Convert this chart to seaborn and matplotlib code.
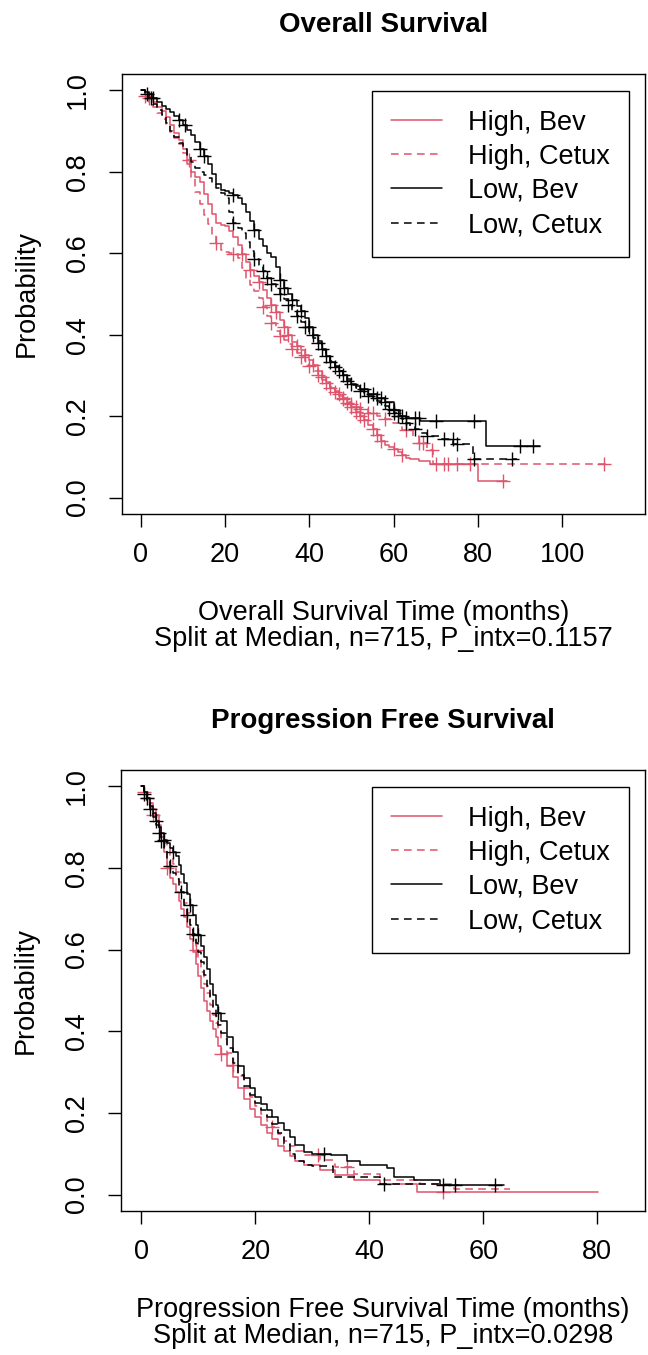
import numpy as np
import pandas as pd
import seaborn as sns
import matplotlib
matplotlib.use('Agg')
import matplotlib.pyplot as plt

# ---- Overall survival (months, survival prob after each drop) ----
os_low_bev_t = [0, 1, 2, 3, 4, 5, 6, 7, 8, 9, 10, 11, 12, 13, 14, 15, 16, 17, 18, 19,
                20, 21, 22, 23, 24, 25, 26, 27, 28, 29, 30, 31, 32, 33, 34, 35, 36, 37, 38, 39,
                40, 41, 42, 43, 44, 45, 46, 47, 48, 49, 50, 51, 52, 54, 56, 58, 60, 61.5, 63, 66.3, 82, 94.7]
os_low_bev_s = [1, .995, .99, .98, .97, .962, .955, .946, .937, .928, .915, .903, .89, .872, .855, .838, .82, .795, .77, .756,
                .752, .748, .742, .736, .72, .70, .68, .657, .634, .617, .60, .59, .565, .535, .515, .50, .485, .47, .458, .44,
                .42, .40, .385, .365, .347, .333, .32, .31, .30, .292, .28, .273, .266, .255, .245, .235, .215, .20, .195, .188, .126, .126]
os_low_cet_t = [0, 1, 2, 3, 4, 5, 6, 7, 8, 9, 10, 11, 12, 13, 14, 15, 16, 17, 18, 19,
                20, 21, 22, 23, 24, 25, 26, 27, 28, 29, 30, 31, 32, 33, 34, 35, 36, 37, 38, 39,
                40, 41, 42, 43, 44, 45, 46, 47, 48, 49, 50, 51, 52, 53, 54, 55, 56, 57, 58, 59,
                60, 61, 62, 63, 64, 65, 66, 68, 71, 74.2, 78.9, 89.2]
os_low_cet_s = [1, .99, .98, .966, .952, .94, .92, .90, .885, .87, .855, .84, .825, .808, .80, .792, .785, .772, .76, .748,
                .735, .70, .674, .662, .65, .628, .605, .585, .57, .556, .54, .525, .513, .50, .487, .472, .458, .445, .43, .418,
                .405, .392, .38, .362, .348, .335, .322, .31, .297, .286, .276, .27, .262, .256, .25, .244, .238, .232, .226, .218,
                .208, .20, .192, .184, .176, .168, .159, .152, .143, .131, .094, .094]
os_high_bev_t = [0, 1, 2, 3, 4, 5, 6, 7, 8, 9, 10, 11, 12, 13, 14, 15, 16, 17, 18, 19,
                 20, 21, 22, 23, 24, 25, 26, 27, 28, 29, 30, 31, 32, 33, 34, 35, 36, 37, 38, 39,
                 40, 41, 42, 43, 44, 45, 46, 47, 48, 49, 50, 51, 52, 53, 54, 55, 56, 57, 58, 59,
                 60, 61, 62, 63, 64, 66, 68.6, 80.1, 86.8]
os_high_bev_s = [1, .99, .98, .972, .96, .948, .935, .915, .895, .877, .857, .83, .80, .788, .774, .745, .72, .697, .674, .67,
                 .667, .655, .64, .62, .597, .578, .56, .545, .53, .51, .49, .472, .455, .437, .42, .40, .383, .372, .362, .35,
                 .338, .325, .31, .295, .283, .27, .26, .25, .241, .232, .222, .21, .20, .19, .178, .168, .155, .14, .13, .125,
                 .12, .112, .105, .098, .095, .09, .082, .041, .041]
os_high_cet_t = [0, 1, 2, 3, 4, 5, 6, 7, 8, 9, 10, 11, 12, 13, 14, 15, 16, 17, 18, 19,
                 20, 21, 22, 23, 24, 25, 26, 27, 28, 29, 30, 31, 32, 33, 34, 35, 36, 37, 38, 39,
                 40, 41, 42, 43, 44, 45, 46, 47, 48, 49, 50, 51, 52, 54, 56, 58, 59.9, 62, 64.7, 66,
                 67.8, 69.4, 110.5]
os_high_cet_s = [1, .985, .97, .958, .944, .93, .915, .898, .882, .867, .845, .82, .785, .75, .722, .695, .672, .648, .625, .608,
                 .604, .60, .597, .588, .563, .54, .523, .507, .49, .468, .446, .428, .41, .398, .386, .376, .366, .355, .345, .335,
                 .324, .312, .30, .29, .281, .272, .263, .254, .245, .236, .229, .222, .217, .208, .20, .192, .184, .165, .151, .135,
                 .118, .082, .082]

# censored times
os_low_bev_c = [3, 9, 10.5, 14, 15, 22, 27, 33, 34, 36, 38, 40, 41, 43, 45, 46, 48, 50, 53, 55, 56, 57, 58, 60, 62, 63, 65, 66, 70, 79, 90, 93]
os_low_cet_c = [1.5, 2.5, 22, 27, 29, 30, 31, 33, 35, 37, 39, 42, 44, 47, 49, 52, 54, 59, 60, 61, 63, 65, 68, 72, 74, 75, 79, 88]
os_high_bev_c = [2, 11.5, 24, 26, 28, 31, 32, 34, 35, 37, 39, 41, 43, 45, 46, 48, 49, 50, 51, 52, 53, 55, 56, 57, 60, 62, 86]
os_high_cet_c = [1, 18, 22, 29, 31, 33, 36, 38, 40, 42, 44, 47, 48, 50, 51, 52, 54, 55, 58, 63, 66, 67, 69, 70, 72, 73, 75, 78, 110]

# ---- Progression free survival ----
pfs_low_bev_t = [0, .5, 1, 1.5, 2, 2.5, 3, 3.5, 4, 4.5, 5, 5.5, 6, 6.5, 7, 7.5, 8, 8.5, 9, 9.5,
                 10, 10.5, 11, 11.5, 12, 12.5, 13, 13.5, 14, 15, 16, 17, 18, 19, 20, 21, 22, 23, 24, 25,
                 26, 27, 28.5, 30, 33.2, 36, 38.4, 43.1, 44.3, 47.8, 52.5, 63.6]
pfs_low_bev_s = [1, .985, .97, .952, .935, .915, .90, .885, .869, .86, .85, .84, .83, .808, .785, .762, .735, .71, .685, .66,
                 .635, .61, .582, .552, .515, .49, .465, .445, .425, .385, .35, .315, .285, .262, .24, .223, .207, .19, .175, .158,
                 .14, .122, .105, .10, .096, .082, .072, .064, .043, .037, .023, .023]
pfs_low_cet_t = [0, .5, 1, 1.5, 2, 2.5, 3, 3.5, 4, 4.5, 5, 5.5, 6, 6.5, 7, 7.5, 8, 8.5, 9, 9.5,
                 10, 10.5, 11, 11.5, 12, 12.5, 13, 13.5, 14, 15, 16, 17, 18, 19, 20, 21, 22, 23, 24, 25,
                 26, 27, 28.5, 30, 33.7, 41.9, 53, 55.5]
pfs_low_cet_s = [1, .98, .96, .945, .925, .905, .885, .865, .843, .82, .805, .788, .772, .757, .74, .71, .685, .66, .637, .615,
                 .593, .57, .538, .51, .48, .46, .437, .415, .395, .36, .322, .292, .267, .245, .225, .207, .19, .172, .15, .125,
                 .10, .082, .072, .07, .043, .027, .023, .023]
pfs_high_bev_t = [0, .5, 1, 1.5, 2, 2.5, 3, 3.5, 4, 4.5, 5, 5.5, 6, 6.5, 7, 7.5, 8, 8.5, 9, 9.5,
                  10, 10.5, 11, 11.5, 12, 12.5, 13, 13.5, 14, 15, 16, 17, 18, 19, 20, 21, 22, 23, 24, 25,
                  26, 27, 28.5, 31.4, 34, 37.3, 41.9, 48.4, 80.2]
pfs_high_bev_s = [1, .985, .97, .96, .945, .93, .905, .875, .84, .80, .775, .76, .74, .72, .70, .68, .655, .625, .595, .565,
                  .535, .505, .475, .45, .425, .405, .385, .365, .345, .315, .287, .26, .235, .21, .19, .17, .152, .136, .12, .107,
                  .094, .082, .072, .06, .048, .035, .027, .006, .006]
pfs_high_cet_t = [0, .5, 1, 1.5, 2, 2.5, 3, 3.5, 4, 4.5, 5, 5.5, 6, 6.5, 7, 7.5, 8, 8.5, 9, 9.5,
                  10, 10.5, 11, 11.5, 12, 12.5, 13, 13.5, 14, 15, 16, 17, 18, 19, 20, 21, 22, 23, 24, 25,
                  26, 27, 28.5, 31.4, 34, 37.3, 41.9, 48.9, 54.8, 64.7]
pfs_high_cet_s = [1, .985, .965, .95, .93, .912, .895, .875, .86, .85, .83, .81, .79, .765, .74, .715, .69, .66, .63, .60,
                  .575, .545, .515, .493, .465, .44, .42, .40, .38, .348, .318, .29, .262, .238, .218, .198, .18, .165, .148, .132,
                  .12, .108, .098, .084, .068, .051, .035, .027, .015, .015]

pfs_low_bev_c = [1, 2.5, 4, 5.5, 8.5, 10, 13.5, 32, 53, 62]
pfs_low_cet_c = [0.5, 1.5, 3, 3.5, 5, 7, 8, 9, 42.5, 55]
pfs_high_bev_c = [1, 4.5, 14, 53]
pfs_high_cet_c = [0.5, 2, 9.5, 16, 23, 31, 36]

labels = ['High, Bev', 'High, Cetux', 'Low, Bev', 'Low, Cetux']
red = '#DF536B'
colors = [red, red, 'black', 'black']
dash = (0, (5, 3.5))
styles = ['-', dash, '-', dash]

sns.set_style('white')
plt.rcParams['font.family'] = ['Liberation Sans', 'DejaVu Sans']
plt.rcParams['text.color'] = 'black'
plt.rcParams['axes.labelcolor'] = 'black'
plt.rcParams['xtick.color'] = 'black'
plt.rcParams['ytick.color'] = 'black'
FS = 19.5


def step_at(t, s, c):
    idx = np.searchsorted(np.array(t), np.array(c), side='right') - 1
    return np.array(s)[idx]


def km_panel(ax, curves, censors, xticks, xlim, title, xlab):
    for (t, s), c, lab, col, ls in zip(curves, censors, labels, colors, styles):
        df = pd.DataFrame({'time': t, 'surv': s})
        sns.lineplot(data=df, x='time', y='surv', ax=ax, drawstyle='steps-post',
                     estimator=None, sort=False, color=col, linestyle=ls,
                     linewidth=1.1, label=lab)
        cdf = pd.DataFrame({'time': c, 'surv': step_at(t, s, c)})
        ax.plot(cdf['time'], cdf['surv'], linestyle='none', marker='+',
                markersize=10, markeredgewidth=1.0, color=col)
    ax.set_xlim(*xlim)
    ax.set_ylim(-0.04, 1.04)
    ax.set_xticks(xticks)
    ax.set_xticklabels([str(v) for v in xticks])
    ax.set_yticks([0, 0.2, 0.4, 0.6, 0.8, 1.0])
    ax.set_yticklabels(['0.0', '0.2', '0.4', '0.6', '0.8', '1.0'], rotation=90, va='center')
    ax.tick_params(direction='out', length=9.5, width=1, color='black',
                   labelsize=FS, left=True, bottom=True)
    ax.tick_params(axis='x', pad=10.5)
    ax.tick_params(axis='y', pad=13)
    for sp in ax.spines.values():
        sp.set_color('black')
        sp.set_linewidth(1)
        sp.set_visible(True)
    ax.set_ylabel('Probability', fontsize=FS, labelpad=18)
    ax.set_xlabel(xlab, fontsize=FS, labelpad=23, linespacing=1.03)
    ax.set_title(title, fontsize=20, fontweight='bold', pad=30)
    ax.legend(loc='upper right', bbox_to_anchor=(0.969, 0.962), fontsize=FS,
              frameon=True, fancybox=False, edgecolor='black', framealpha=1,
              borderpad=0.7, labelspacing=0.3, handlelength=1.9,
              handletextpad=0.95, borderaxespad=0).get_frame().set_linewidth(1)
    ax.grid(False)


fig = plt.figure(figsize=(6.48, 13.55), dpi=100)
ax1 = fig.add_axes([0.1883, 0.6207, 0.807, 0.3247])
ax2 = fig.add_axes([0.1867, 0.1063, 0.8086, 0.3255])

km_panel(ax1,
         [(os_high_bev_t, os_high_bev_s), (os_high_cet_t, os_high_cet_s),
          (os_low_bev_t, os_low_bev_s), (os_low_cet_t, os_low_cet_s)],
         [os_high_bev_c, os_high_cet_c, os_low_bev_c, os_low_cet_c],
         [0, 20, 40, 60, 80, 100], (-4.4, 119.6), 'Overall Survival',
         'Overall Survival Time (months)\nSplit at Median, n=715, P_intx=0.1157')

km_panel(ax2,
         [(pfs_high_bev_t, pfs_high_bev_s), (pfs_high_cet_t, pfs_high_cet_s),
          (pfs_low_bev_t, pfs_low_bev_s), (pfs_low_cet_t, pfs_low_cet_s)],
         [pfs_high_bev_c, pfs_high_cet_c, pfs_low_bev_c, pfs_low_cet_c],
         [0, 20, 40, 60, 80], (-3.6, 88.4), 'Progression Free Survival',
         'Progression Free Survival Time (months)\nSplit at Median, n=715, P_intx=0.0298')

fig.savefig('out.png', dpi=100)
